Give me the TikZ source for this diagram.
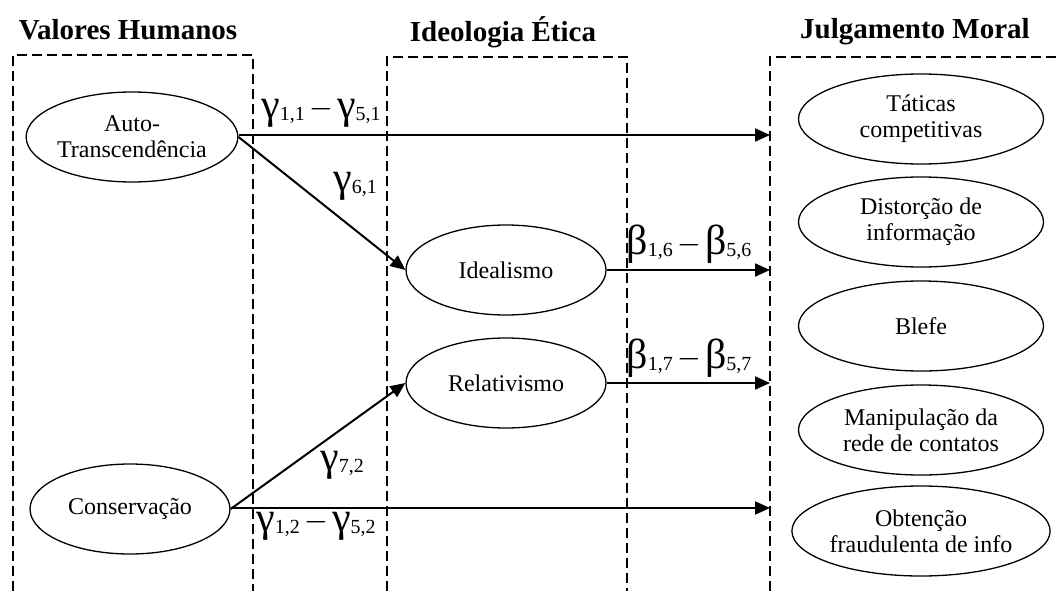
\documentclass[tikz,border=0pt]{standalone}
\usepackage{fontspec}
\setmainfont{Liberation Serif}
\usetikzlibrary{shapes.geometric,arrows.meta}
\newcommand\glab[2]{{\fontsize{42}{42}\selectfont #1}{\fontsize{20}{20}\selectfont\raisebox{-2pt}{#2}}}
\newcommand\gmin{\hspace{5pt}{\fontsize{28}{28}\selectfont\scalebox{1.4}[1]{−}}\hspace{5pt}}
\begin{document}
\begin{tikzpicture}[x=1pt,y=-1pt,
  oval/.style={draw,line width=1.3pt,ellipse,minimum width=200pt,minimum height=90pt,inner sep=0pt,align=center,font=\fontsize{24}{26}\selectfont},
  rov/.style={oval,minimum width=245pt},
  box/.style={line width=2pt,dash pattern=on 10pt off 5pt},
  arr/.style={line width=2pt,-{Triangle[length=15pt,width=13pt]}},
  ttl/.style={font=\fontsize{29}{29}\selectfont\bfseries,inner sep=0pt},
  lab/.style={inner sep=0pt}]
\useasboundingbox (0,0) rectangle (1059,591);
% titles
\node[ttl] (t1) at (128,30) {Valores Humanos};
\node[ttl] (t2) at (503,32) {Ideologia Ética};
\node[ttl] (t3) at (915,32) {Julgamento Moral};
% dashed boxes
\draw[box] (13,591) -- (13,55) -- (253,55) -- (253,591);
\draw[box] (387,591) -- (387,57) -- (627,57) -- (627,591);
\draw[box] (770,591) -- (770,57) -- (1059,57);
% ovals
\node[oval] (auto) at (132,137) {Auto-\\Transcendência};
\node[oval] (cons) at (130,509) {Conservação};
\node[oval] (ideal) at (506,270) {Idealismo};
\node[oval] (rel) at (506,383) {Relativismo};
\node[rov] (tat) at (921,119) {Táticas\\competitivas};
\node[rov] (dist) at (921,222) {Distorção de\\informação};
\node[rov] (blef) at (921,326) {Blefe};
\node[rov] (mani) at (921,430) {Manipulação da\\rede de contatos};
\node[rov] (obt) at (921,531) {Obtenção\\fraudulenta de info};
% endpoints on the right box
\coordinate (e1) at (770,135);
\coordinate (e2) at (770,270);
\coordinate (e3) at (770,383);
\coordinate (e4) at (770,508);
% arrows
\draw[arr] (auto.east |- e1) -- (e1);
\draw[arr] (auto.east) -- (ideal.west);
\draw[arr] (ideal.east) -- (e2);
\draw[arr] (rel.east) -- (e3);
\draw[arr] (cons.east) -- (rel.west);
\draw[arr] (cons.east |- e4) -- (e4);
% labels
\node[lab] (l1) at (321,113) {\glab{γ}{1,1}\gmin\glab{γ}{5,1}};
\node[lab] (l2) at (355,186) {\glab{γ}{6,1}};
\node[lab] (l3) at (689,244) {\glab{β}{1,6}\gmin\glab{β}{5,6}};
\node[lab] (l4) at (689,358) {\glab{β}{1,7}\gmin\glab{β}{5,7}};
\node[lab] (l5) at (342,465) {\glab{γ}{7,2}};
\node[lab] (l6) at (316,526) {\glab{γ}{1,2}\gmin\glab{γ}{5,2}};
\end{tikzpicture}
\end{document}
